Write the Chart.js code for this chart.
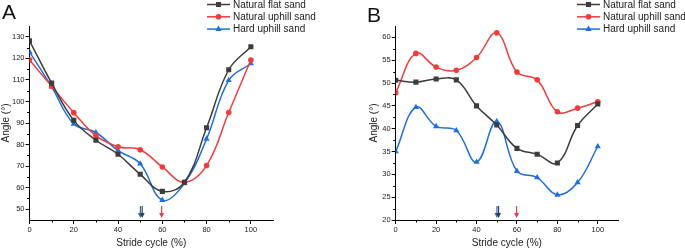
<!DOCTYPE html>
<html>
<head>
<meta charset="utf-8">
<script src="https://cdn.jsdelivr.net/npm/chart.js@4.4.1/dist/chart.umd.min.js"></script>
<style>
  body { margin:0; background:#fff; width:685px; height:249px; position:relative; overflow:hidden; font-family:"Liberation Sans", Arial, sans-serif; }
  .panel { position:absolute; top:0; width:340px; height:249px; }
  .tag { position:absolute; top:0; font-size:21px; color:#111; }
</style>
</head>
<body>
<div class="panel" style="left:0"><canvas id="chartA" width="340" height="249"></canvas></div>
<div class="panel" style="left:345px"><canvas id="chartB" width="340" height="249"></canvas></div>
<div class="tag" style="left:2px">A</div>
<div class="tag" style="left:367px;top:3px">B</div>
<script>
// ── data ──
const strideCycle = [0, 10, 20, 30, 40, 50, 60, 70, 80, 90, 100];
const seriesNames = ['Natural flat sand', 'Natural uphill sand', 'Hard uphill sand'];

// panel A
const flatA   = [128.1, 108.5, 91.2, 82.0, 75.5, 66.2, 58.3, 62.5, 87.8, 114.7, 125.4];
const uphillA = [119.3, 107.0, 94.8, 84.1, 79.0, 77.6, 69.6, 62.5, 70.3, 94.9, 119.2];
const hardA   = [123.0, 106.8, 89.6, 85.6, 77.2, 71.1, 54.2, 62.0, 82.6, 109.8, 117.6];
const arrowsA = [50.1, 50.9, 59.7];   // hard, flat, uphill

// panel B
const flatB   = [50.6, 50.2, 50.9, 50.7, 45.0, 40.8, 35.7, 34.4, 32.5, 40.7, 45.4];
const uphillB = [47.9, 56.5, 53.5, 52.8, 55.6, 61.0, 52.4, 50.7, 43.7, 44.5, 45.9];
const hardB   = [35.0, 44.7, 40.5, 39.6, 32.7, 41.6, 30.7, 29.3, 25.5, 28.2, 36.1];
const arrowsB = [50.1, 50.9, 59.8];

const COLORS = ['#3d3d3d', '#f03c3c', '#1f6fde'];
const MARKERS = ['rect', 'circle', 'triangle'];
const MRADIUS = [3.6, 2.8, 3.6];
const arrowColors = [COLORS[2], COLORS[0], COLORS[1]];
const FONT = '"Liberation Sans", Arial, sans-serif';

// minor ticks, legend and the arrows on the x axis
const extrasPlugin = {
  id: 'extras',
  afterDraw(chart, args, o) {
    const ctx = chart.ctx, area = chart.chartArea;
    const xs = chart.scales.x, ys = chart.scales.y;
    ctx.save();
    ctx.strokeStyle = '#000';
    ctx.lineWidth = 1;
    // minor ticks
    xs.ticks.forEach(t => {
      if (t.value % 20 === 0 || t.value >= xs.max) return;
      const px = Math.round(xs.getPixelForValue(t.value)) + 0.5;
      ctx.beginPath(); ctx.moveTo(px, area.bottom); ctx.lineTo(px, area.bottom + 2.5); ctx.stroke();
    });
    ys.ticks.forEach(t => {
      if (t.value % o.yMajor === 0 || t.value <= ys.min || t.value >= ys.max) return;
      const py = Math.round(ys.getPixelForValue(t.value)) + 0.5;
      ctx.beginPath(); ctx.moveTo(area.left, py); ctx.lineTo(area.left - 2.5, py); ctx.stroke();
    });
    // arrows
    o.arrows.forEach((v, i) => {
      const px = xs.getPixelForValue(v);
      const yb = area.bottom - 2, yt = area.bottom - 14;
      ctx.strokeStyle = arrowColors[i]; ctx.fillStyle = arrowColors[i];
      ctx.lineWidth = 1.2;
      ctx.beginPath(); ctx.moveTo(px, yt); ctx.lineTo(px, yb - 4); ctx.stroke();
      ctx.beginPath(); ctx.moveTo(px - 2.5, yb - 5); ctx.lineTo(px + 2.5, yb - 5); ctx.lineTo(px, yb); ctx.closePath(); ctx.fill();
    });
    // legend
    ctx.font = '10px ' + FONT;
    ctx.textBaseline = 'middle';
    chart.data.datasets.forEach((ds, i) => {
      const y = o.legY + i * 12.3;
      ctx.strokeStyle = ds.borderColor; ctx.lineWidth = 1.5;
      ctx.beginPath(); ctx.moveTo(o.legX, y); ctx.lineTo(o.legX + 23, y); ctx.stroke();
      ctx.fillStyle = ds.borderColor;
      Chart.helpers.drawPoint(ctx, { pointStyle: ds.pointStyle, radius: ds.pointRadius, borderWidth: 0 }, o.legX + 11.5, y);
      ctx.fillStyle = '#222';
      ctx.fillText(ds.label, o.legX + 26, y + 0.5);
    });
    ctx.restore();
  }
};

function makeChart(id, values, yMin, yMax, yStep, yMajor, yWidth, padLeft, legX, arrows) {
  const datasets = values.map((vals, i) => ({
    label: seriesNames[i],
    data: vals,
    borderColor: COLORS[i],
    backgroundColor: COLORS[i],
    borderWidth: 1.5,
    pointStyle: MARKERS[i],
    pointRadius: MRADIUS[i],
    pointBorderWidth: 0,
    tension: 0.4
  }));
  const tickColor = c => (c.tick && !c.tick.label) ? 'rgba(0,0,0,0)' : '#000';
  return new Chart(document.getElementById(id), {
    type: 'line',
    data: { labels: strideCycle, datasets },
    plugins: [extrasPlugin],
    options: {
      responsive: false,
      animation: false,
      layout: { padding: { left: padLeft, right: 67, top: 26, bottom: 0 } },
      plugins: {
        legend: { display: false },
        tooltip: { enabled: false },
        extras: { arrows, legX, legY: 4.5, yMajor }
      },
      scales: {
        x: {
          type: 'linear', min: 0, max: 110,
          afterFit: s => { s.height = 29; },
          border: { color: '#000', width: 1 },
          grid: { drawOnChartArea: false, tickLength: 4, tickColor },
          ticks: {
            stepSize: 10, padding: 1, maxRotation: 0, autoSkip: false,
            color: '#222', font: { family: FONT, size: 7.5 },
            callback: v => (v % 20 === 0 && v <= 100) ? String(v) : ''
          },
          title: { display: true, text: 'Stride cycle (%)', color: '#222', padding: 0, font: { family: FONT, size: 10 } }
        },
        y: {
          min: yMin, max: yMax,
          afterFit: s => { s.width = yWidth; },
          border: { color: '#000', width: 1 },
          grid: { drawOnChartArea: false, tickLength: 4, tickColor },
          ticks: {
            stepSize: yStep, padding: 1, autoSkip: false,
            color: '#222', font: { family: FONT, size: 7.5 },
            callback: v => (v % yMajor === 0 && v >= yMin && v < yMax) ? String(v) : ''
          },
          title: { display: true, text: 'Angle (°)', color: '#222', padding: 0, font: { family: FONT, size: 10 } }
        }
      }
    }
  });
}

makeChart('chartA', [flatA, uphillA, hardA], 45, 135, 5, 10, 29.5, 0, 207, arrowsA);
makeChart('chartB', [flatB, uphillB, hardB], 20, 62.5, 2.5, 5, 27, 23.7, 232, arrowsB);
</script>
</body>
</html>
